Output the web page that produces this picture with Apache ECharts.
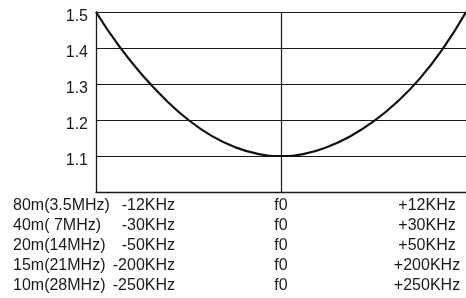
<!DOCTYPE html>
<html>
<head>
<meta charset="utf-8">
<script src="https://cdn.jsdelivr.net/npm/echarts@6/dist/echarts.min.js"></script>
<style>
  html, body { margin: 0; padding: 0; background: #fff; }
  #main { width: 466px; height: 298px; }
</style>
</head>
<body>
<div id="main"></div>
<script>
// 频偏 (归一化, -1 = 左边界, 1 = 右边界) 与驻波比
var offsets = [-1, -0.875, -0.75, -0.625, -0.5, -0.375, -0.25, -0.125, 0, 0.125, 0.25, 0.375, 0.5, 0.625, 0.75, 0.875, 1];
var swr = [1.5, 1.405, 1.325, 1.257, 1.2, 1.156, 1.125, 1.106, 1.1, 1.106, 1.125, 1.155, 1.196, 1.249, 1.315, 1.398, 1.5];

// 下方表格
var bands = ['80m(3.5MHz)', '40m( 7MHz)', '20m(14MHz)', '15m(21MHz)', '10m(28MHz)'];
var lowLabels = ['-12KHz', '-30KHz', '-50KHz', '-200KHz', '-250KHz'];
var centerLabel = 'f0';
var highLabels = ['+12KHz', '+30KHz', '+50KHz', '+200KHz', '+250KHz'];

var yTicks = [1.0, 1.1, 1.2, 1.3, 1.4, 1.5];

var myChart = echarts.init(document.getElementById('main'));

var font = 'Liberation Sans, Arial, sans-serif';
var ink = '#1a1a1a';

var xAxes = bands.map(function (band, i) {
    return {
        type: 'value',
        min: -1,
        max: 1,
        interval: 1,
        position: 'bottom',
        offset: i * 20,
        axisLine: { show: i === 0, onZero: false, lineStyle: { color: ink, width: 1.3 } },
        axisTick: { show: false },
        splitLine: {
            show: i === 0,
            // 只保留中间 f0 的竖线
            lineStyle: { color: ['transparent', ink, 'transparent'], width: 1.2 }
        },
        axisLabel: {
            margin: 6,
            color: ink,
            fontFamily: font,
            fontSize: 16,
            lineHeight: 16,
            formatter: function (v) {
                if (v === -1) return '{band|' + band + '}{low|' + lowLabels[i] + '}';
                if (v === 1) return '{high|' + highLabels[i] + '}{pad|}';
                return centerLabel;
            },
            rich: {
                band: { width: 100, align: 'left', fontFamily: font, fontSize: 16, color: ink },
                low: { width: 62, align: 'right', fontFamily: font, fontSize: 16, color: ink, padding: [0, 4, 0, 0] },
                high: { width: 72, align: 'right', fontFamily: font, fontSize: 16, color: ink },
                pad: { width: 78 }
            }
        }
    };
});

option = {
    backgroundColor: '#fff',
    animation: false,
    grid: { left: 96, right: 0, top: 12, bottom: 106, outerBoundsMode: 'none', containLabel: false },
    xAxis: xAxes,
    yAxis: {
        type: 'value',
        min: yTicks[0],
        max: yTicks[yTicks.length - 1],
        interval: 0.1,
        axisLine: { show: true, onZero: false, lineStyle: { color: ink, width: 1.3 } },
        axisTick: { show: false },
        splitLine: { show: true, lineStyle: { color: ink, width: 1.2 } },
        axisLabel: {
            showMinLabel: false,
            margin: 8,
            formatter: function (v) { return '{v|' + v.toFixed(1) + '}'; },
            rich: {
                v: { color: ink, fontFamily: font, fontSize: 16, padding: [9, 0, 0, 0] }
            }
        }
    },
    series: [{
        type: 'line',
        xAxisIndex: 0,
        data: offsets.map(function (x, i) { return [x, swr[i]]; }),
        smooth: true,
        showSymbol: false,
        lineStyle: { color: '#111', width: 2.2 }
    }]
};

myChart.setOption(option);
</script>
</body>
</html>
